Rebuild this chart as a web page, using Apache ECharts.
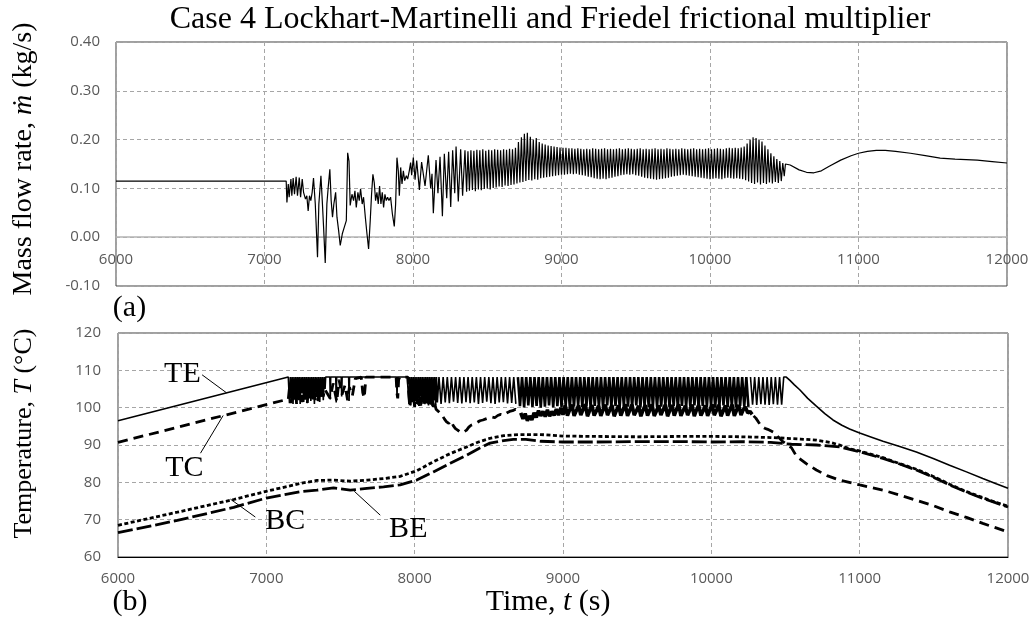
<!DOCTYPE html>
<html>
<head>
<meta charset="utf-8">
<script src="https://cdn.jsdelivr.net/npm/echarts@6/dist/echarts.min.js"></script>
<style>
  html, body { margin: 0; padding: 0; background: #fff; }
  #chart { width: 1035px; height: 623px; }
</style>
</head>
<body>
<div id="chart"></div>
<script>
// ---- axis ticks ----
const timeTicks = [6000, 7000, 8000, 9000, 10000, 11000, 12000];
const flowTicks = [-0.10, 0.00, 0.10, 0.20, 0.30, 0.40];
const tempTicks = [60, 70, 80, 90, 100, 110, 120];

// ---- (a) mass flow rate, kg/s ----
// [time s, flow] pairs
const flowSteady = [[6000, 0.115], [7146, 0.115]];
const flowOnset = [
  [7151,0.071],[7160,0.109],[7166,0.082],[7178,0.119],[7184,0.085],[7193,0.121],[7202,0.088],
  [7213,0.124],[7222,0.085],[7234,0.122],[7243,0.082],[7254,0.119],[7263,0.092],[7276,0.078],
  [7285,0.085],[7294,0.054],[7303,0.085],[7312,0.075],[7321,0.092],[7330,0.121],[7342,0.068],
  [7357,-0.041],[7366,0.068],[7380,0.126],[7389,0.075],[7398,0.020],[7409,-0.053],[7420,0.068],
  [7429,0.102],[7440,0.139],[7449,0.075],[7458,0.041],[7467,0.068],[7479,0.092],[7488,0.041],
  [7499,0.014],[7510,-0.017],[7524,0.007],[7537,0.020],[7551,0.034],[7560,0.173],[7569,0.156],
  [7577,0.065],[7589,0.088],[7600,0.075],[7609,0.095],[7618,0.061],[7629,0.092],[7638,0.075],
  [7647,0.099],[7658,0.068],[7667,0.082],[7679,0.041],[7690,0.007],[7701,-0.024],[7712,0.034],
  [7721,0.088],[7730,0.129],[7739,0.112],[7748,0.075],[7757,0.092],[7766,0.068],[7775,0.105],
  [7784,0.068],[7793,0.092],[7802,0.061],[7811,0.088],[7820,0.075],[7829,0.082],[7838,0.075],
  [7849,0.082],[7861,0.048],[7874,0.022],[7883,0.068],[7892,0.163],[7901,0.136],[7908,0.085],
  [7917,0.143],[7926,0.109],[7935,0.136],[7944,0.116],[7955,0.126],[7964,0.119],[7975,0.136],
  [7984,0.153]
];
const flowGrowth = [
  [7991,0.127],[8002,0.163],[8014,0.118],[8025,0.157],[8043,0.097],[8058,0.154],[8081,0.105],
  [8103,0.168],[8119,0.100],[8128,0.130],[8137,0.049],[8155,0.158],[8168,0.090],[8182,0.165],
  [8198,0.043],[8211,0.171],[8227,0.080],[8240,0.175],[8254,0.062],[8267,0.178],[8281,0.090],
  [8290,0.186],[8305,0.073],[8321,0.180],[8334,0.085],[8350,0.178],[8361,0.093]
];
// sustained oscillation, sampled every 10 s from 8370 s
const flowSustainedStart = 8370;
const flowSustainedStep = 10;
const flowSustained = [
  0.176,0.095,0.178,0.097,0.177,0.094,0.179,0.098,0.178,0.096,0.180,0.099,0.177,0.100,0.179,0.098,0.178,0.101,0.180,0.102,
  0.179,0.104,0.178,0.103,0.180,0.106,0.179,0.105,0.181,0.107,0.180,0.108,0.183,0.110,0.195,0.112,0.205,0.113,0.212,0.115,
  0.214,0.117,0.206,0.116,0.200,0.119,0.203,0.118,0.195,0.121,0.192,0.122,0.190,0.123,0.188,0.124,0.187,0.125,0.186,0.126,
  0.185,0.127,0.184,0.128,0.183,0.128,0.183,0.129,0.182,0.130,0.182,0.129,0.181,0.130,0.182,0.128,0.181,0.127,0.180,0.126,
  0.181,0.124,0.180,0.123,0.182,0.121,0.181,0.120,0.180,0.119,0.181,0.120,0.182,0.119,0.180,0.121,0.181,0.122,0.180,0.124,
  0.181,0.125,0.182,0.127,0.180,0.128,0.181,0.129,0.182,0.128,0.181,0.129,0.180,0.127,0.181,0.126,0.182,0.124,0.180,0.122,
  0.181,0.121,0.180,0.120,0.181,0.119,0.182,0.118,0.180,0.119,0.181,0.120,0.180,0.121,0.182,0.122,0.181,0.124,0.180,0.125,
  0.181,0.126,0.180,0.127,0.182,0.128,0.181,0.127,0.180,0.126,0.181,0.125,0.182,0.124,0.180,0.123,0.181,0.122,0.180,0.121,
  0.181,0.120,0.182,0.119,0.180,0.120,0.181,0.121,0.182,0.120,0.181,0.119,0.180,0.121,0.182,0.122,0.183,0.121,0.182,0.120,
  0.183,0.121,0.182,0.120,0.184,0.119,0.186,0.117,0.192,0.114,0.200,0.111,0.205,0.109,0.203,0.112,0.200,0.108,0.196,0.111,
  0.188,0.109,0.180,0.112,0.172,0.110,0.166,0.113,0.160,0.111,0.156,0.115,0.152,0.125
];
const flowRecovery = [
  [10508,0.150],[10518,0.153],[10540,0.148],[10600,0.138],[10650,0.133],[10700,0.132],[10750,0.136],
  [10800,0.145],[10880,0.158],[10950,0.167],[11000,0.172],[11060,0.176],[11120,0.178],[11180,0.178],
  [11250,0.176],[11350,0.172],[11450,0.167],[11550,0.162],[11650,0.160],[11800,0.158],[11900,0.155],
  [12000,0.152]
];

// ---- (b) temperatures, deg C ----
const teWarmup = [[6000, 96.5], [7148, 108.2]];
const teChatterA = [ // from 7150 s, every 6 s
  108.2,101.2,108.2,102.5,108.2,101.0,108.2,103.0,108.2,101.5,108.2,102.0,108.2,101.0,
  108.2,104.0,108.2,101.5,108.2,102.5,108.2,101.2,108.2,103.5,108.2,101.8,108.2,102.2,
  108.2,101.0,108.2,104.5,108.2,102.0,108.2,101.5,108.2,103.0,108.2,102.0,108.2,105.0
];
const teSpikes = [
  [7400,108.2],[7428,108.2],[7431,102.2],[7434,108.2],[7468,108.2],[7471,101.4],[7474,108.2],
  [7505,108.2],[7508,103.0],[7511,108.2],[7555,108.2],[7558,101.8],[7561,108.2],[7878,108.2],
  [7881,102.8],[7884,108.2],[7950,108.2]
];
const teChatterB = [ // from 7955 s, every 6 s
  108.2,101.0,108.2,100.6,108.2,102.5,108.2,100.4,108.2,101.8,108.2,100.8,108.2,103.0,
  108.2,100.5,108.2,101.5,108.2,100.9,108.2,102.2,108.2,100.6,108.2,101.2,108.2,100.4,
  108.2,101.9,108.2,100.7,108.2,101.4
];
const teCyclingEarly = [ // from 8164 s, every 14 s
  108.2,101.0,108.2,101.4,108.2,101.2,108.2,101.6,108.2,101.3,108.2,101.1,108.2,101.5,108.2,101.2,108.2,101.4,108.2,101.0,
  108.2,101.3,108.2,101.6,108.2,101.2,108.2,101.0,108.2,101.4,108.2,101.5,108.2,101.1,108.2,101.3,108.2,101.0
];
const teCyclingMid = [ // from 8696 s, every 14 s
  108.2,100.4,108.2,100.1,108.2,100.6,108.2,100.2,108.2,100.5,108.2,100.0,108.2,100.3,108.2,100.6,108.2,100.1,108.2,100.4,
  108.2,100.2,108.2,100.5,108.2,100.0,108.2,100.3,108.2,100.6,108.2,100.2,108.2,100.4,108.2,100.1,108.2,100.5,108.2,100.3,
  108.2,100.0,108.2,100.6,108.2,100.2,108.2,100.4,108.2,100.1,108.2,100.5,108.2,100.3,108.2,100.2,108.2,100.6,108.2,100.0,
  108.2,100.4,108.2,100.1,108.2,100.5,108.2,100.2,108.2,100.3,108.2,100.6,108.2,100.1,108.2,100.4,108.2,100.0,108.2,100.5,
  108.2,100.2,108.2,100.3,108.2,100.6,108.2,100.1,108.2,100.4,108.2,100.2,108.2,100.5,108.2,100.0,108.2,100.3,108.2,100.6,
  108.2,100.2,108.2,100.4,108.2,100.1,108.2,100.5,108.2,100.3,108.2,100.2
];
const teCyclingLate = [ // from 10264 s, every 14 s
  108.2,100.8,108.2,100.7,108.2,100.9,108.2,100.8,108.2,100.7,108.2,100.9,108.2,100.8,108.2,100.8
];
const teCooldown = [
  [10488,108.2],[10505,108.2],[10530,107.3],[10560,106.1],[10596,104.8],[10650,102.5],[10708,100.4],
  [10765,98.4],[10820,96.7],[10880,95.3],[10932,94.3],[11000,93.2],[11080,92.1],[11157,91.0],
  [11270,89.6],[11382,88.1],[11500,86.3],[11606,84.6],[11720,82.8],[11830,81.0],[11920,79.6],
  [12000,78.4]
];

const tcWarmup = [[6000, 90.7], [7148, 102.3]];
const tcChatterA = [ // from 7150 s, every 9 s
  102.5,106.5,101.2,107.5,102.0,105.0,101.0,108.0,103.0,106.0,101.5,107.0,102.2,104.5,
  101.0,106.5,102.5,107.8,101.8,105.5,102.0,107.0,101.5,104.0,102.5,106.0,103.0,105.0
];
const tcSpikes = [
  [7405,104.5],[7430,102.5],[7450,106.5],[7475,101.6],[7490,107.5],[7510,103.5],[7530,106.0],
  [7548,102.0],[7560,105.5],[7580,103.2],[7600,107.8],[7640,108.2],[7650,104.0],[7660,102.6],
  [7672,108.2],[7875,108.2],[7880,104.0],[7886,102.5],[7892,107.5],[7900,108.2],[7955,108.2]
];
const tcChatterB = [ // from 7960 s, every 8 s
  104.0,100.5,106.0,101.5,103.0,100.2,107.0,101.0,104.5,100.5,105.5,101.8,
  102.5,100.3,106.5,101.2,103.5,100.6,104.8,100.2,102.0,99.8,101.0,99.6
];
const tcSag = [
  [8155,99.2],[8170,98.6],[8185,98.0],[8200,97.0],[8215,96.2],[8230,95.8],[8245,96.5],[8260,95.2],
  [8275,94.4],[8290,94.0],[8305,93.5],[8320,93.3],[8335,93.6],[8350,94.0],[8365,94.8],[8380,95.3],
  [8400,95.6],[8420,96.0],[8440,96.5],[8460,96.7],[8480,97.0],[8500,97.3],[8520,97.5],[8540,97.3],
  [8560,97.9],[8580,98.2],[8600,98.0],[8620,98.6],[8640,99.0],[8660,99.2],[8680,99.6],[8700,99.0]
];
const tcPlateau = [ // from 8715 s, every 15 s
  98.6,97.0,98.4,96.5,97.8,96.7,98.6,97.4,99.2,97.8,99.0,97.6,99.4,97.7,99.0,97.9,99.6,98.0,100.0,98.1,
  100.6,97.9,99.4,100.8,97.8,99.2,100.6,98.0,99.5,100.9,97.7,99.3,100.7,97.9,99.1,100.5,97.8,99.4,100.8,98.0,
  99.3,100.7,97.7,99.2,100.6,97.9,99.5,100.9,97.8,99.3,100.8,98.0,99.2,100.5,97.7,99.4,100.7,97.9,99.3,100.9,
  97.8,99.1,100.6,98.0,99.4,100.8,97.7,99.3,100.7,97.9,99.5,100.9,97.8,99.2,100.5,98.0,99.3,100.8,97.7,99.4,
  100.7,97.9,99.2,100.6,97.8,99.4,100.9,98.0,99.3,100.7,97.7,99.1,100.6,97.9,99.5,100.8,97.8,99.3,100.7,98.0,
  99.4,100.2,98.6,99.0,98.2
];
const tcCooldown = [
  [10285,97.8],[10300,97.2],[10320,96.0],[10340,95.0],[10360,94.5],[10380,94.2],[10400,93.8],
  [10420,93.4],[10440,92.6],[10460,91.8],[10480,91.0],[10500,90.4],[10520,89.8],[10540,89.3],
  [10574,87.0],[10640,85.0],[10708,83.3],[10780,81.8],[10865,80.6],[11000,79.3],[11157,77.9],
  [11270,76.6],[11382,75.2],[11500,73.7],[11606,72.1],[11720,70.6],[11830,69.0],[11920,67.8],
  [12000,66.7]
];

const bcTrace = [
  [6000,68.5],[6400,72.0],[6780,75.4],[7000,77.6],[7229,79.7],[7341,80.5],[7450,80.6],[7566,80.3],
  [7680,80.6],[7790,81.0],[7902,81.6],[8014,83.1],[8126,85.5],[8240,87.7],[8351,89.5],[8430,90.8],
  [8508,91.8],[8600,92.5],[8700,92.8],[8850,92.8],[9000,92.4],[9200,92.3],[9500,92.2],[9800,92.3],
  [10000,92.3],[10200,92.2],[10400,92.0],[10500,91.8],[10600,91.6],[10708,91.3],[10800,90.7],
  [10865,90.0],[10930,89.0],[11000,88.4],[11157,86.6],[11270,85.0],[11382,83.5],[11500,81.5],
  [11606,79.5],[11720,77.5],[11830,75.9],[11920,74.6],[12000,73.6]
];
const beTrace = [
  [6000,66.5],[6400,69.8],[6780,73.3],[7000,75.8],[7229,77.5],[7341,77.9],[7453,78.5],[7566,77.9],
  [7678,78.4],[7790,78.8],[7902,79.3],[8014,80.6],[8126,82.8],[8240,85.1],[8351,87.3],[8430,89.0],
  [8508,90.5],[8600,91.2],[8665,91.5],[8750,91.5],[8850,91.0],[9000,90.8],[9200,90.8],[9500,90.9],
  [9800,90.9],[10000,90.8],[10200,90.9],[10400,90.7],[10540,90.2],[10708,90.0],[10865,89.5],
  [11000,88.2],[11157,86.4],[11270,84.9],[11382,83.3],[11500,81.3],[11606,79.3],[11720,77.4],
  [11830,75.7],[11920,74.5],[12000,73.4]
];

// curve labels: text anchor and leader line, in (time, temperature)
const curveLabels = [
  { name: 'TE', text: [6434, 109.1], from: [6567, 108.8], to: [6731, 104.0] },
  { name: 'TC', text: [6448, 83.8],  from: [6556, 87.8],  to: [6709, 97.9] },
  { name: 'BC', text: [7128, 69.6],  from: [6926, 70.7],  to: [6758, 75.5] },
  { name: 'BE', text: [7957, 67.4],  from: [7768, 71.2],  to: [7593, 77.6] }
];

// ---- helpers ----
function stepped(t0, dt, values) {
  return values.map((v, i) => [t0 + i * dt, v]);
}

const flowData = [].concat(
  flowSteady, flowOnset, flowGrowth,
  stepped(flowSustainedStart, flowSustainedStep, flowSustained),
  flowRecovery
);
// TE: the long saturated cycling stretch is drawn as its own, heavier piece
const teLead = [].concat(
  teWarmup, stepped(7150, 6, teChatterA), teSpikes,
  stepped(7955, 6, teChatterB), stepped(8164, 14, teCyclingEarly)
);
const teMid = stepped(8696, 14, teCyclingMid);
const teTail = [].concat(stepped(10264, 14, teCyclingLate), teCooldown);

const tcLead = [].concat(
  tcWarmup, stepped(7150, 9, tcChatterA), tcSpikes,
  stepped(7960, 8, tcChatterB), tcSag
);
const tcMid = stepped(8715, 15, tcPlateau);
const tcTail = tcCooldown;

const SERIF = '"Liberation Serif", "Times New Roman", "DejaVu Serif", serif';
const SANS = '"Open Sans", "Noto Sans", sans-serif';
const TICK_COLOR = '#595959';
const GRID_LINE = { show: true, lineStyle: { color: '#a6a6a6', type: [4, 3], width: 1 } };

const TOP_GRID = { left: 116, top: 42, width: 891, height: 244 };
const BOTTOM_GRID = { left: 118, top: 333, width: 890, height: 224 };

// the time axis of (a) sits on the zero-flow line
const flowMin = flowTicks[0], flowMax = flowTicks[flowTicks.length - 1];
const zeroLineOffset = -TOP_GRID.height * (0 - flowMin) / (flowMax - flowMin);

const chart = echarts.init(document.getElementById('chart'), null, { renderer: 'canvas' });

function lineSeries(name, data, grid, style) {
  return {
    name: name, type: 'line', xAxisIndex: grid, yAxisIndex: grid, data: data,
    showSymbol: false, symbol: 'none', animation: false, clip: true,
    lineStyle: Object.assign({ color: '#000' }, style),
    emphasis: { disabled: true }
  };
}

const plainNumber = v => String(v);
const TC_DASH = [10, 6];

chart.setOption({
  animation: false,
  backgroundColor: '#fff',
  grid: [
    Object.assign({ show: true, borderColor: '#404040', borderWidth: 1, containLabel: false }, TOP_GRID),
    Object.assign({ show: true, borderColor: '#404040', borderWidth: 1, containLabel: false }, BOTTOM_GRID)
  ],
  xAxis: [
    {
      type: 'value', gridIndex: 0, position: 'bottom', offset: zeroLineOffset,
      min: timeTicks[0], max: timeTicks[timeTicks.length - 1], interval: 1000,
      axisLine: { show: true, onZero: false, lineStyle: { color: '#b4b4b4', width: 1.5 } },
      axisTick: { show: false },
      axisLabel: { color: TICK_COLOR, fontFamily: SANS, fontSize: 15, margin: 15, formatter: plainNumber },
      splitLine: GRID_LINE
    },
    {
      type: 'value', gridIndex: 1,
      min: timeTicks[0], max: timeTicks[timeTicks.length - 1], interval: 1000,
      axisLine: { show: true, lineStyle: { color: '#000', width: 1 } },
      axisTick: { show: false },
      axisLabel: { color: TICK_COLOR, fontFamily: SANS, fontSize: 15, margin: 14, formatter: plainNumber },
      splitLine: GRID_LINE
    }
  ],
  yAxis: [
    {
      type: 'value', gridIndex: 0,
      min: flowMin, max: flowMax, interval: 0.1,
      axisLine: { show: false }, axisTick: { show: false },
      axisLabel: { color: TICK_COLOR, fontFamily: SANS, fontSize: 15, margin: 16,
        formatter: v => v.toFixed(2) },
      splitLine: GRID_LINE
    },
    {
      type: 'value', gridIndex: 1,
      min: tempTicks[0], max: tempTicks[tempTicks.length - 1], interval: 10,
      axisLine: { show: false }, axisTick: { show: false },
      axisLabel: { color: TICK_COLOR, fontFamily: SANS, fontSize: 15, margin: 17 },
      splitLine: GRID_LINE
    }
  ],
  series: [
    lineSeries('m', flowData, 0, { width: 1.2 }),
    lineSeries('BE', beTrace, 1, { width: 2.8, type: [15, 4] }),
    lineSeries('BC', bcTrace, 1, { width: 2.8, type: [4, 2.5] }),
    lineSeries('TC', tcLead, 1, { width: 2.8, type: TC_DASH }),
    lineSeries('TC', tcMid, 1, { width: 3.6 }),
    lineSeries('TC', tcTail, 1, { width: 2.8, type: TC_DASH }),
    lineSeries('TE', teLead, 1, { width: 1.6 }),
    lineSeries('TE', teMid, 1, { width: 2.6 }),
    lineSeries('TE', teTail, 1, { width: 1.6 })
  ]
});

function serifText(x, y, text, size, extra) {
  return Object.assign({
    type: 'text', x: x, y: y, silent: true, z: 100,
    style: {
      text: text, fill: '#000', fontFamily: SERIF, fontSize: size,
      align: 'center', verticalAlign: 'middle',
      textAlign: 'center', textVerticalAlign: 'middle',
      rich: { i: { fontFamily: SERIF, fontSize: size, fontStyle: 'italic', fill: '#000' },
              r: { fontFamily: SERIF, fontSize: size, fill: '#000' } }
    }
  }, extra || {});
}

const graphics = [
  serifText(550, 19.5, 'Case 4 Lockhart-Martinelli and Friedel frictional multiplier', 32),
  serifText(24, 159, '{r|Mass flow rate, }{i|ṁ}{r| (kg/s)}', 28, { rotation: Math.PI / 2 }),
  serifText(24, 433.5, '{r|Temperature, }{i|T}{r| (°C)}', 26, { rotation: Math.PI / 2 }),
  serifText(129.5, 308, '(a)', 30),
  serifText(130, 602, '(b)', 30),
  serifText(548, 602, '{r|Time, }{i|t}{r| (s)}', 30)
];

curveLabels.forEach(lab => {
  const p = chart.convertToPixel({ gridIndex: 1 }, lab.text);
  const a = chart.convertToPixel({ gridIndex: 1 }, lab.from);
  const b = chart.convertToPixel({ gridIndex: 1 }, lab.to);
  graphics.push(serifText(p[0], p[1], lab.name, 30));
  graphics.push({
    type: 'line', silent: true, z: 100,
    shape: { x1: a[0], y1: a[1], x2: b[0], y2: b[1] },
    style: { stroke: '#000', lineWidth: 1 }
  });
});

chart.setOption({ graphic: graphics });
</script>
</body>
</html>
